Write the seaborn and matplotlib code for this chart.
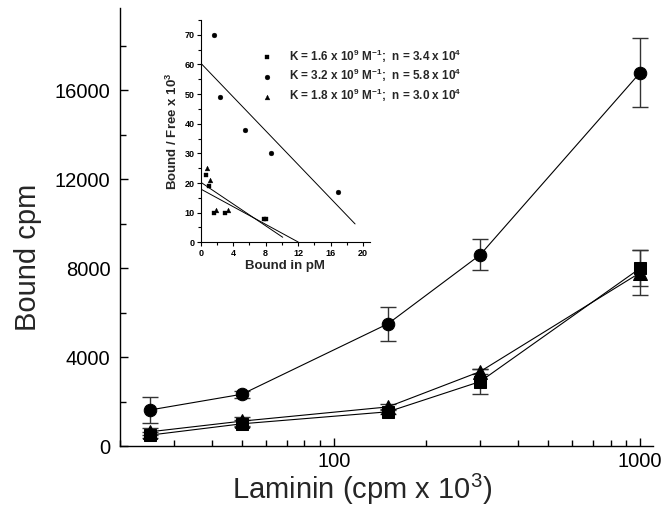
"""Laminin binding curve with Scatchard inset."""

import matplotlib
matplotlib.use("Agg")
import matplotlib.pyplot as plt
import matplotlib.ticker as mticker
import seaborn as sns
import pandas as pd

# main plot: bound cpm vs laminin added (cpm x 10^3)
laminin = [25, 50, 150, 300, 1000]
bound_circle = [1620, 2330, 5500, 8600, 16800]
err_circle = [580, 150, 770, 700, 1550]
bound_square = [490, 1000, 1540, 2900, 8000]
err_square = [150, 150, 120, 580, 800]
bound_triangle = [640, 1120, 1760, 3350, 7800]
err_triangle = [150, 200, 120, 120, 1000]

# inset: Scatchard points (bound in pM, bound/free x 10^3)
sq_bound = [0.6, 1.0, 1.6, 3.0, 7.85, 8.1]
sq_ratio = [22.8, 19.0, 10.0, 10.0, 8.0, 8.0]
ci_bound = [1.7, 2.4, 5.4, 8.7, 16.9]
ci_ratio = [70.0, 48.9, 37.9, 30.0, 16.9]
tr_bound = [0.76, 1.1, 1.9, 3.4]
tr_ratio = [25.0, 21.0, 10.9, 10.9]

# fitted lines, endpoints
fit_sq_x = [0, 12.0]
fit_sq_y = [18.0, 0.1]
fit_ci_x = [0, 19.0]
fit_ci_y = [60.5, 6.2]
fit_tr_x = [0, 10.1]
fit_tr_y = [20.3, 1.7]

labels = [
    r"K = 1.6 x 10$^{\mathbf{9}}$ M$^{\mathbf{-1}}$;  n = 3.4 x 10$^{\mathbf{4}}$",
    r"K = 3.2 x 10$^{\mathbf{9}}$ M$^{\mathbf{-1}}$;  n = 5.8 x 10$^{\mathbf{4}}$",
    r"K = 1.8 x 10$^{\mathbf{9}}$ M$^{\mathbf{-1}}$;  n = 3.0 x 10$^{\mathbf{4}}$",
]

sns.set_style("ticks")
plt.rcParams["font.family"] = ["Liberation Sans", "DejaVu Sans"]
plt.rcParams["mathtext.fontset"] = "custom"
plt.rcParams["mathtext.rm"] = "Liberation Sans"
plt.rcParams["mathtext.bf"] = "Liberation Sans:bold"

fig = plt.figure(figsize=(6.71, 5.08), dpi=100)
ax = fig.add_axes([0.179, 0.122, 0.794, 0.862])

main = pd.DataFrame({"x": laminin})
for y, err, m in [
    (bound_square, err_square, "s"),
    (bound_triangle, err_triangle, "^"),
    (bound_circle, err_circle, "o"),
]:
    ax.errorbar(laminin, y, yerr=err, fmt="none", ecolor="#333333",
                elinewidth=1.0, capsize=6, capthick=1.0, zorder=2)
    main["y"] = y
    sns.lineplot(data=main, x="x", y="y", ax=ax, color="black", lw=0.8,
                 marker=m, markersize=9 if m != "^" else 10,
                 markeredgecolor="black", markerfacecolor="black", zorder=3)

ax.set_xscale("log")
ax.set_xlim(20, 1100)
ax.set_ylim(0, 19700)
ax.xaxis.set_major_locator(mticker.FixedLocator([100, 1000]))
ax.xaxis.set_major_formatter(mticker.FuncFormatter(lambda v, p: f"{v:g}"))
ax.xaxis.set_minor_locator(mticker.LogLocator(base=10, subs=range(2, 10)))
ax.xaxis.set_minor_formatter(mticker.NullFormatter())
ax.yaxis.set_major_locator(mticker.MultipleLocator(4000))
ax.yaxis.set_minor_locator(mticker.MultipleLocator(2000))
ax.tick_params(which="both", direction="in", width=1.0, labelsize=14.5,
               colors="black")
ax.tick_params(which="major", length=6)
ax.tick_params(which="minor", length=4)
ax.tick_params(axis="y", which="major", pad=7)
ax.tick_params(axis="x", which="major", pad=4)
for s in ["left", "bottom"]:
    ax.spines[s].set_linewidth(1.0)
    ax.spines[s].set_color("black")
sns.despine(ax=ax)
ax.set_xlabel(r"Laminin (cpm x 10$^3$)", fontsize=21)
ax.xaxis.set_label_coords(0.454, -0.06)
ax.set_ylabel("Bound cpm", fontsize=21)
ax.yaxis.set_label_coords(-0.146, 0.43)

# inset
ins = fig.add_axes([0.299, 0.523, 0.2526, 0.4376])
sns.scatterplot(x=sq_bound, y=sq_ratio, ax=ins, marker="s", s=10,
                color="black", edgecolor="black", label=labels[0])
sns.scatterplot(x=ci_bound, y=ci_ratio, ax=ins, marker="o", s=12,
                color="black", edgecolor="black", label=labels[1])
sns.scatterplot(x=tr_bound, y=tr_ratio, ax=ins, marker="^", s=12,
                color="black", edgecolor="black", label=labels[2])
for fx, fy in [(fit_sq_x, fit_sq_y), (fit_ci_x, fit_ci_y), (fit_tr_x, fit_tr_y)]:
    sns.lineplot(x=fx, y=fy, ax=ins, color="black", lw=0.7, legend=False)

ins.set_xlim(0, 20.85)
ins.set_ylim(0, 75)
ins.xaxis.set_major_locator(mticker.MultipleLocator(4))
ins.xaxis.set_minor_locator(mticker.MultipleLocator(2))
ins.yaxis.set_major_locator(mticker.MultipleLocator(10))
ins.yaxis.set_minor_locator(mticker.MultipleLocator(5))
ins.tick_params(which="both", direction="out", width=0.8, labelsize=6.5,
                colors="black", pad=1.5)
ins.tick_params(which="major", length=3)
ins.tick_params(which="minor", length=2)
for t in ins.get_xticklabels() + ins.get_yticklabels():
    t.set_fontweight("bold")
for s in ["left", "bottom"]:
    ins.spines[s].set_linewidth(0.8)
    ins.spines[s].set_color("black")
ins.patch.set_alpha(0)
sns.despine(ax=ins)
ins.set_xlabel("Bound in pM", fontsize=9.5, fontweight="bold", labelpad=2)
ins.set_ylabel(r"Bound / Free x 10$^{\mathbf{3}}$", fontsize=9.5,
               fontweight="bold", labelpad=3)

leg = ins.legend(loc="upper left", bbox_to_anchor=(0.355, 0.877),
                 frameon=False, fontsize=8.5, handlelength=1.0,
                 handletextpad=1.4, labelspacing=0.2, borderpad=0,
                 borderaxespad=0)
for t in leg.get_texts():
    t.set_fontweight("bold")

fig.savefig("out.png", dpi=100)
